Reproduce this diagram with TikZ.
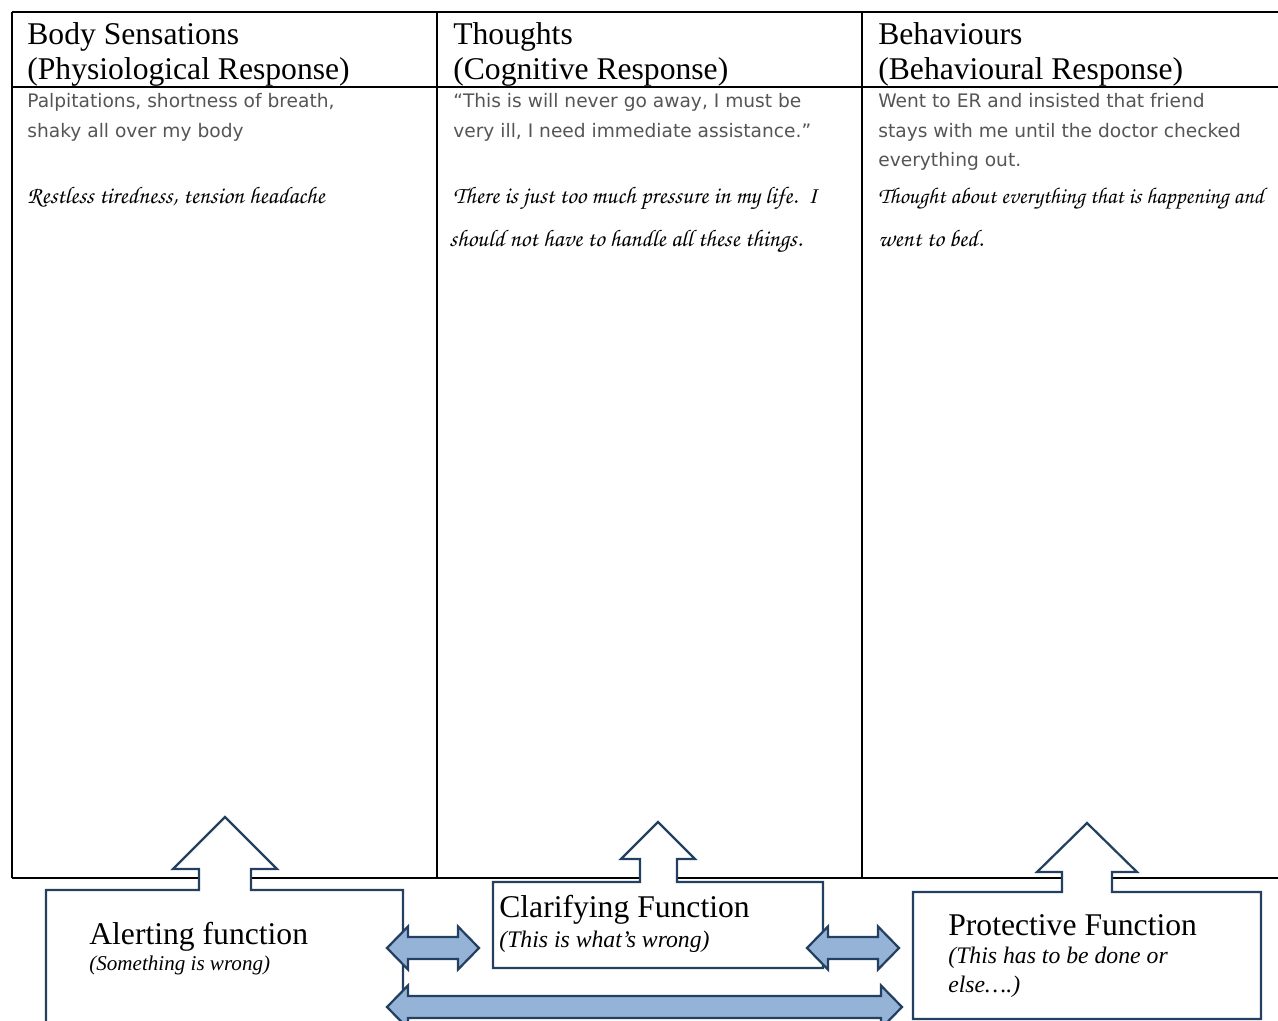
\documentclass[tikz,border=0pt]{standalone}
\usepackage{fontspec}
\setmainfont{Liberation Serif}
\newfontfamily\printhand{DejaVu Sans}
\newfontfamily\brushhand{texgyrechorus-mediumitalic.otf}
\usetikzlibrary{calc}

\definecolor{navy}{RGB}{36,64,97}
\definecolor{arrowblue}{RGB}{149,179,215}
\definecolor{inkgray}{RGB}{85,85,85}

\tikzset{
  tableline/.style={line width=0.055cm, black},
  funcbox/.style={line width=0.045cm, draw=navy, fill=white, line join=miter},
  dblarrow/.style={line width=0.045cm, draw=navy, fill=arrowblue, line join=miter},
  headtext/.style={anchor=base west, inner sep=0pt, font=\fontsize{18}{20}\selectfont},
  graytext/.style={anchor=base west, inner sep=0pt, text=inkgray, font=\printhand\fontsize{10.6}{12}\selectfont},
  inktext/.style={anchor=base west, inner sep=0pt, font=\brushhand\fontsize{13.6}{15}\selectfont},
  functitle/.style={anchor=base west, inner sep=0pt, font=\fontsize{18}{20}\selectfont},
  funcnote/.style={anchor=base west, inner sep=0pt, font=\itshape\fontsize{13.5}{16}\selectfont},
}

% block arrow with a head at each end, between two named tips
\newcommand{\twowayarrow}[2]{%
  \draw[dblarrow] (#1) -- ($(#1)+(21,-21.5)$) -- ($(#1)+(21,-11)$)
    -- ($(#2)+(-21,-11)$) -- ($(#2)+(-21,-21.5)$) -- (#2)
    -- ($(#2)+(-21,21.5)$) -- ($(#2)+(-21,11)$)
    -- ($(#1)+(21,11)$) -- ($(#1)+(21,21.5)$) -- cycle;}

\begin{document}
\begin{tikzpicture}[x=0.02cm,y=-0.02cm]
        \useasboundingbox (0,0) rectangle (1278,1021);
        \clip (0,0) rectangle (1278,1021);

        % Table frame
        \draw [tableline] (12,12) -- (1290,12);
        \draw [tableline] (12,87) -- (1290,87);
        \draw [tableline] (12,878) -- (1290,878);
        \draw [tableline] (12,12) -- (12,878);
        \draw [tableline] (437,12) -- (437,878);
        \draw [tableline] (862,12) -- (862,878);

        % Column headings
        \node [headtext] (bodyhead) at (27,44) {Body Sensations};
        \node [headtext] (bodysub) at (27,79) {(Physiological Response)};
        \node [headtext] (thoughthead) at (453,44) {Thoughts};
        \node [headtext] (thoughtsub) at (453,79) {(Cognitive Response)};
        \node [headtext] (behavhead) at (878,44) {Behaviours};
        \node [headtext] (behavsub) at (878,79) {(Behavioural Response)};

        % Body sensations column
        \node [graytext] (bodyp1) at (27,107) {Palpitations, shortness of breath,};
        \node [graytext] (bodyp2) at (27,137) {shaky all over my body};
        \node [inktext] (bodyi1) at (27,203) {Restless tiredness, tension headache};

        % Thoughts column
        \node [graytext] (thoughtp1) at (453,107) {“This is will never go away, I must be};
        \node [graytext] (thoughtp2) at (453,137) {very ill, I need immediate assistance.”};
        \node [inktext] (thoughti1) at (453,203) {There is just too much pressure in my life.\ \ I};
        \node [inktext] (thoughti2) at (449,246) {should not have to handle all these things.};

        % Behaviours column
        \node [graytext] (behavp1) at (878,107) {Went to ER and insisted that friend};
        \node [graytext] (behavp2) at (878,137) {stays with me until the doctor checked};
        \node [graytext] (behavp3) at (878,166) {everything out.};
        \node [inktext, font=\brushhand\fontsize{12.9}{15}\selectfont] (behavi1) at (878,203) {Thought about everything that is happening and};
        \node [inktext] (behavi2) at (878,246) {went to bed.};

        % Alerting box with its up arrow
        \draw [funcbox] (46,1035) -- (46,890) -- (199,890) -- (199,869) -- (173,869)
              -- (225,817) -- (277,869) -- (251,869) -- (251,890) -- (403,890) -- (403,1035) -- cycle;
        % Clarifying box with its up arrow
        \draw [funcbox] (493,968) -- (493,882) -- (640,882) -- (640,859) -- (621,859)
              -- (658,822) -- (695,859) -- (677,859) -- (677,882) -- (823,882) -- (823,968) -- cycle;
        % Protective box with its up arrow
        \draw [funcbox] (913,1019) -- (913,892) -- (1062,892) -- (1062,872) -- (1037,872)
              -- (1087,823) -- (1137,872) -- (1112,872) -- (1112,892) -- (1261,892) -- (1261,1019) -- cycle;

        % Function labels
        \node [functitle] (alert) at (89,944) {Alerting function};
        \node [funcnote, font=\itshape\fontsize{12}{14}\selectfont] (alertnote) at (89,970) {(Something is wrong)};
        \node [functitle] (clarify) at (499,917) {Clarifying Function};
        \node [funcnote] (clarifynote) at (499,947) {(This is what’s wrong)};
        \node [functitle] (protect) at (948,935) {Protective Function};
        \node [funcnote] (protectnote) at (948,963) {(This has to be done or};
        \node [funcnote] (protectnote2) at (948,992) {else….)};

        % Two-way arrows between the functions
        \coordinate (alertR) at (387,948);
        \coordinate (clarifyL) at (479,948);
        \coordinate (clarifyR) at (807,948);
        \coordinate (protectL) at (899,948);
        \coordinate (alertlow) at (387,1007);
        \coordinate (protectlow) at (902,1007);
        \twowayarrow{alertR}{clarifyL}
        \twowayarrow{clarifyR}{protectL}
        \twowayarrow{alertlow}{protectlow}
\end{tikzpicture}
\end{document}
